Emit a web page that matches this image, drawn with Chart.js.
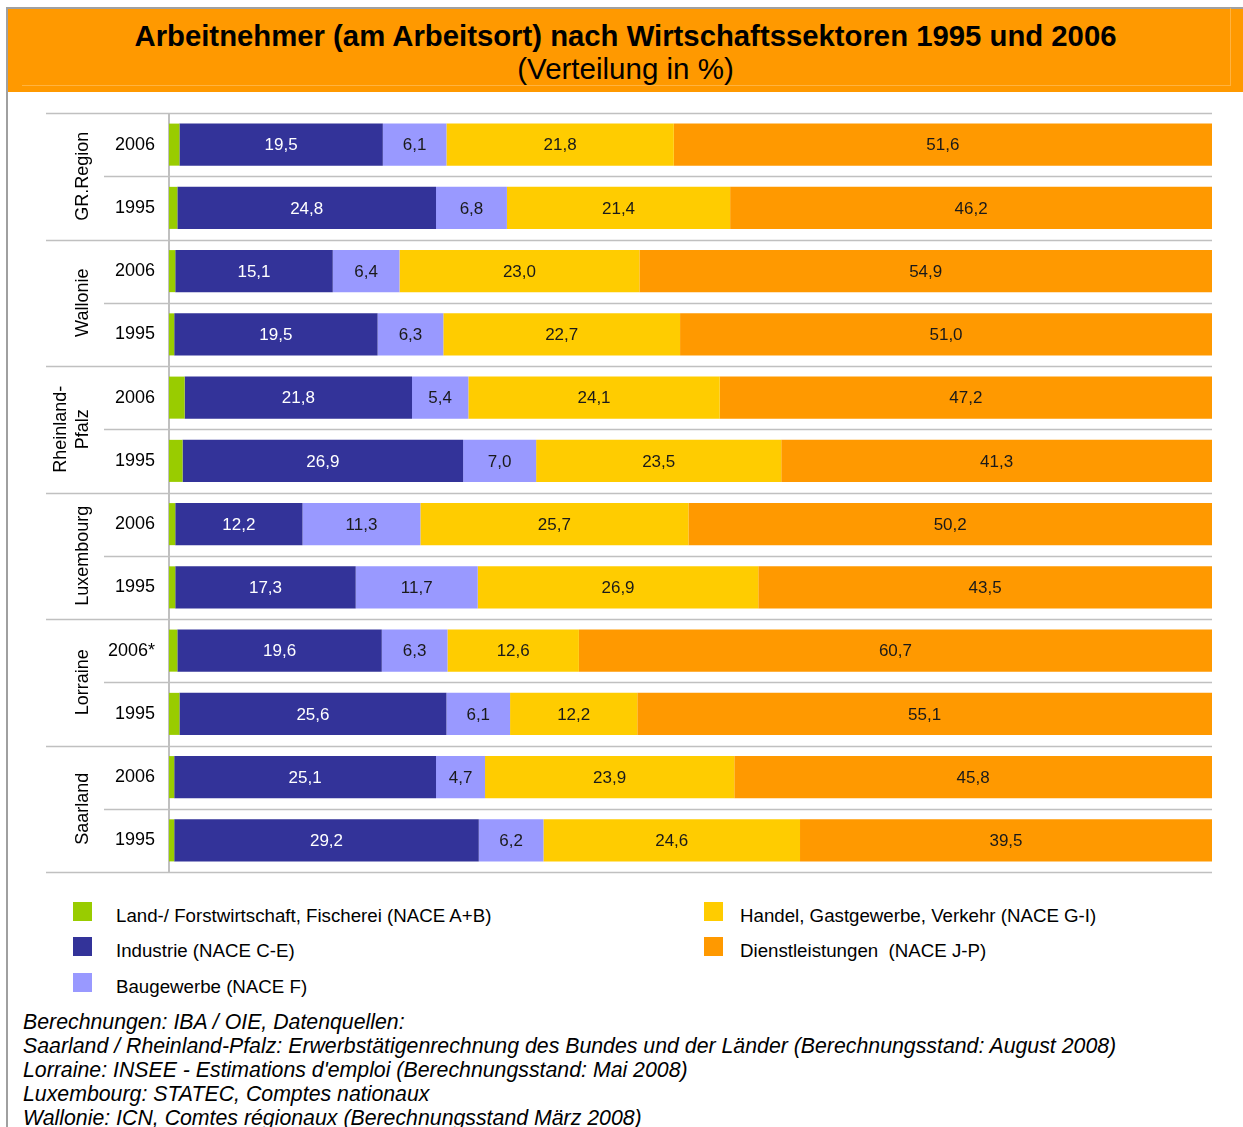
<!DOCTYPE html>
<html lang="de">
<head>
<meta charset="UTF-8">
<title>Arbeitnehmer nach Wirtschaftssektoren 1995 und 2006</title>
<script src="https://cdn.jsdelivr.net/npm/chart.js@4.4.0/dist/chart.umd.min.js"></script>
<style>
  html, body { margin: 0; padding: 0; background: #fff; }
  body { width: 1243px; height: 1127px; overflow: hidden; position: relative;
         font-family: "Liberation Sans", Arial, sans-serif; color: #000; }
  #frame { position: absolute; left: 6px; top: 7px; width: 1250px; height: 1200px;
           border-left: 2px solid #a0a0a0; border-top: 2px solid #a0a0a0; }
  #header { position: absolute; left: 8px; top: 9px; width: 1235px; height: 83px; background: #ff9900; }
  #header .inner { position: absolute; left: 14px; top: -1px; width: 1208px; height: 77px;
                   border-right: 1px solid #ffb340; border-bottom: 1px solid #ffb340; }
  #header h1 { position: absolute; left: 0; right: 0; top: 12px; margin: 0; text-align: center;
               font-size: 29.3px; font-weight: bold; line-height: 30px; }
  #header h2 { position: absolute; left: 0; right: 0; top: 45px; margin: 0; text-align: center;
               font-size: 29.5px; font-weight: normal; line-height: 30px; }
  #chart { position: absolute; left: 0; top: 0; }
  .leg { position: absolute; font-size: 18.7px; white-space: pre; line-height: 20px; }
  .leg i { position: absolute; width: 19px; height: 19px; }
  #notes { position: absolute; left: 23px; top: 1010px; font-size: 21.3px; font-style: italic; line-height: 24px; white-space: nowrap; }
</style>
</head>
<body>
<div id="frame"></div>
<div id="header">
  <div class="inner"></div>
  <h1>Arbeitnehmer (am Arbeitsort) nach Wirtschaftssektoren 1995 und 2006</h1>
  <h2>(Verteilung in %)</h2>
</div>
<canvas id="chart" width="1243" height="900"></canvas>
<div id="legend"></div>
<div id="notes">Berechnungen: IBA / OIE, Datenquellen:<br>Saarland / Rheinland-Pfalz: Erwerbstätigenrechnung des Bundes und der Länder (Berechnungsstand: August 2008)<br>Lorraine: INSEE - Estimations d'emploi (Berechnungsstand: Mai 2008)<br>Luxembourg: STATEC, Comptes nationaux<br>Wallonie: ICN, Comtes régionaux (Berechnungsstand März 2008)</div>
<script>
// rows from top to bottom, two years per region
const years = ['2006', '1995', '2006', '1995', '2006', '1995', '2006', '1995', '2006*', '1995', '2006', '1995'];
const regions = [['GR.Region'], ['Wallonie'], ['Rheinland-', 'Pfalz'], ['Luxembourg'], ['Lorraine'], ['Saarland']];

const sectorNames = [
  'Land-/ Forstwirtschaft, Fischerei (NACE A+B)',
  'Industrie (NACE C-E)',
  'Baugewerbe (NACE F)',
  'Handel, Gastgewerbe, Verkehr (NACE G-I)',
  'Dienstleistungen  (NACE J-P)'
];
const sectorColors = ['#99cc00', '#333399', '#9999ff', '#ffcc00', '#ff9900'];

const landwirtschaft   = [1.0, 0.8, 0.6, 0.5, 1.5, 1.3, 0.6, 0.6, 0.8, 1.0, 0.5, 0.5];
const industrie        = [19.5, 24.8, 15.1, 19.5, 21.8, 26.9, 12.2, 17.3, 19.6, 25.6, 25.1, 29.2];
const baugewerbe       = [6.1, 6.8, 6.4, 6.3, 5.4, 7.0, 11.3, 11.7, 6.3, 6.1, 4.7, 6.2];
const handel           = [21.8, 21.4, 23.0, 22.7, 24.1, 23.5, 25.7, 26.9, 12.6, 12.2, 23.9, 24.6];
const dienstleistungen = [51.6, 46.2, 54.9, 51.0, 47.2, 41.3, 50.2, 43.5, 60.7, 55.1, 45.8, 39.5];

const series = [landwirtschaft, industrie, baugewerbe, handel, dienstleistungen];
const FONT = '"Liberation Sans", Arial, sans-serif';

// row separators, axis line, region captions and value labels
const decorations = {
  id: 'decorations',
  beforeDatasetsDraw(chart) {
    const { ctx, chartArea: a } = chart;
    const rowH = (a.bottom - a.top) / years.length;
    ctx.save();
    ctx.strokeStyle = '#c0c0c0';
    ctx.lineWidth = 1.5;
    for (let i = 0; i <= years.length; i++) {
      const y = Math.round(a.top + i * rowH) + 0.5;
      ctx.beginPath();
      ctx.moveTo(i % 2 === 0 ? 46 : 104, y);
      ctx.lineTo(a.right, y);
      ctx.stroke();
    }
    ctx.lineWidth = 2;
    ctx.beginPath();
    ctx.moveTo(a.left, a.top);
    ctx.lineTo(a.left, a.bottom + 1);
    ctx.stroke();

    ctx.fillStyle = '#000';
    ctx.font = '18px ' + FONT;
    ctx.textAlign = 'center';
    ctx.textBaseline = 'middle';
    regions.forEach((lines, g) => {
      const cy = a.top + (g * 2 + 1) * rowH;
      lines.forEach((txt, k) => {
        ctx.save();
        ctx.translate(83 - 22 * (lines.length - 1 - k), cy);
        ctx.rotate(-Math.PI / 2);
        ctx.fillText(txt, 0, 0);
        ctx.restore();
      });
    });
    ctx.restore();
  },
  afterDatasetsDraw(chart) {
    const ctx = chart.ctx;
    ctx.save();
    ctx.font = '17px ' + FONT;
    ctx.textAlign = 'center';
    ctx.textBaseline = 'middle';
    chart.data.datasets.forEach((ds, di) => {
      if (di === 0) return; // green sector has no labels
      chart.getDatasetMeta(di).data.forEach((bar, i) => {
        ctx.fillStyle = di === 1 ? '#ffffff' : '#1a1a1a';
        ctx.fillText(ds.data[i].toFixed(1).replace('.', ','), (bar.x + bar.base) / 2, bar.y + 1);
      });
    });
    ctx.restore();
  }
};

new Chart(document.getElementById('chart'), {
  type: 'bar',
  data: {
    labels: years,
    datasets: series.map((d, i) => ({
      label: sectorNames[i],
      data: d,
      backgroundColor: sectorColors[i],
      borderWidth: 0,
      categoryPercentage: 1,
      barPercentage: 0.665
    }))
  },
  options: {
    indexAxis: 'y',
    responsive: false,
    animation: false,
    layout: { padding: { top: 113, bottom: 28, right: 31, left: 0 } },
    plugins: { legend: { display: false }, tooltip: { enabled: false } },
    scales: {
      x: { stacked: true, min: 0, max: 100, display: false },
      y: {
        stacked: true,
        grid: { display: false, drawTicks: false },
        border: { display: false },
        ticks: { color: '#000', padding: 14, font: { family: FONT, size: 18 } },
        afterFit(scale) { scale.width = 169; }
      }
    }
  },
  plugins: [decorations]
});

// legend in two columns below the chart
const legendPos = [[73, 902], [73, 937], [73, 973], [704, 902], [704, 937]];
const legend = document.getElementById('legend');
sectorNames.forEach((name, i) => {
  const el = document.createElement('div');
  el.className = 'leg';
  el.style.left = legendPos[i][0] + 'px';
  el.style.top = legendPos[i][1] + 'px';
  el.innerHTML = '<i></i><span></span>';
  el.firstChild.style.background = sectorColors[i];
  const span = el.lastChild;
  span.textContent = name;
  span.style.position = 'absolute';
  span.style.left = (i < 3 ? 43 : 36) + 'px';
  span.style.top = '4px';
  legend.appendChild(el);
});
</script>
</body>
</html>
